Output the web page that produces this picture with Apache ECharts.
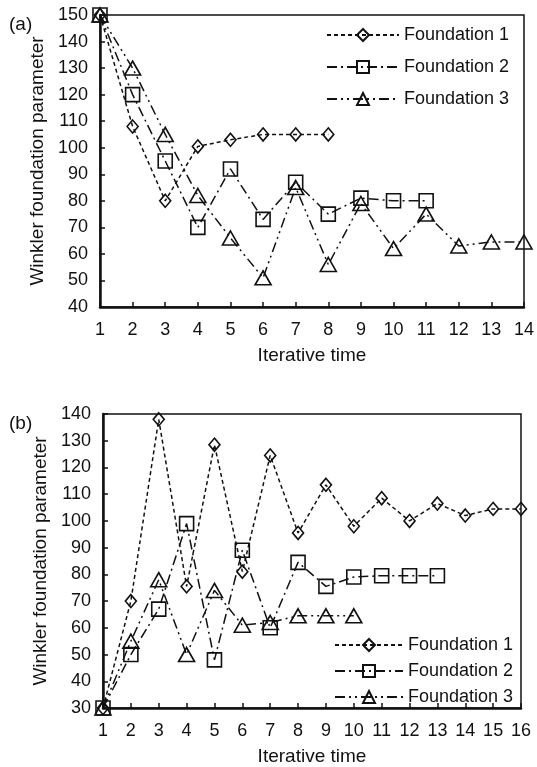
<!DOCTYPE html>
<html>
<head>
<meta charset="utf-8">
<script src="https://cdn.jsdelivr.net/npm/echarts@6/dist/echarts.min.js"></script>
<style>
  html, body { margin: 0; padding: 0; background: #fff; }
  #main { width: 537px; height: 767px; }
</style>
</head>
<body>
<div id="main"></div>
<script>
// x categories
var catsA = ['1', '2', '3', '4', '5', '6', '7', '8', '9', '10', '11', '12', '13', '14'];
var catsB = ['1', '2', '3', '4', '5', '6', '7', '8', '9', '10', '11', '12', '13', '14', '15', '16'];

// (a) Winkler foundation parameter
var a1 = [150, 108, 80, 100.5, 103, 105, 105, 105];
var a2 = [150, 120, 95, 70, 92, 73, 87, 75, 81, 80, 80];
var a3 = [150, 130, 105, 82, 66, 51, 85, 56, 79, 62, 75, 63, 64.5, 64.5];

// (b) Winkler foundation parameter
var b1 = [30, 70, 138, 75.5, 128.5, 81, 124.5, 95.5, 113.5, 98, 108.5, 100, 106.5, 102, 104.5, 104.5];
var b2 = [30, 50, 67, 99, 48, 89, 60, 84.5, 75.5, 79, 79.5, 79.5, 79.5];
var b3 = [30, 55, 78, 50, 74, 61, 62, 64.5, 64.5, 64.5];

var names = ['Foundation 1', 'Foundation 2', 'Foundation 3'];

var font = 'Liberation Sans, Arial, sans-serif';
var ink = '#111';

var styles = [
    { symbol: 'diamond', symbolSize: [11, 13], dash: [4, 3] },
    { symbol: 'rect', symbolSize: 14, dash: [10, 4, 2, 4] },
    { symbol: 'triangle', symbolSize: [16, 14], dash: [10, 4, 2, 4, 2, 4] }
];

function makeSeries(idx, data, axisIdx) {
    var s = styles[idx];
    return {
        name: names[idx],
        type: 'line',
        xAxisIndex: axisIdx,
        yAxisIndex: axisIdx,
        data: data,
        symbol: s.symbol,
        symbolSize: s.symbolSize,
        showAllSymbol: true,
        lineStyle: { color: ink, width: 1.5, type: s.dash },
        itemStyle: { color: 'rgba(0,0,0,0)', borderColor: ink, borderWidth: 1.6 },
        emphasis: { disabled: true }
    };
}

function xAxis(cats, gridIdx) {
    return {
        type: 'category',
        gridIndex: gridIdx,
        data: cats,
        boundaryGap: false,
        name: 'Iterative time',
        nameLocation: 'middle',
        nameGap: 39,
        nameTextStyle: { fontFamily: font, fontSize: 19, color: ink },
        axisLine: { lineStyle: { color: ink, width: 2.5 } },
        axisTick: { inside: true, length: 5, lineStyle: { color: ink, width: 1.5 }, alignWithLabel: true },
        axisLabel: { fontFamily: font, fontSize: 18, color: ink, margin: 14, interval: 0 },
        splitLine: { show: false }
    };
}

function yAxis(min, max, gridIdx) {
    return {
        type: 'value',
        gridIndex: gridIdx,
        min: min,
        max: max,
        interval: 10,
        name: 'Winkler foundation parameter',
        nameLocation: 'middle',
        nameGap: 47,
        nameTextStyle: { fontFamily: font, fontSize: 19, color: ink },
        axisLine: { show: true, lineStyle: { color: ink, width: 2.5 } },
        axisTick: { show: true, inside: true, length: 5, lineStyle: { color: ink, width: 1.5 } },
        axisLabel: { fontFamily: font, fontSize: 18, color: ink, margin: 12 },
        splitLine: { show: false }
    };
}

function legend(top, left, gap, width) {
    return {
        orient: 'vertical',
        top: top,
        left: left,
        itemWidth: width,
        itemHeight: 15,
        itemGap: gap,
        data: names,
        selectedMode: false,
        textStyle: { fontFamily: font, fontSize: 18, color: ink, padding: [0, 0, 0, 0] }
    };
}

var chart = echarts.init(document.getElementById('main'));
var option = {
    animation: false,
    backgroundColor: '#fff',
    title: [
        { text: '(a)', left: 4, top: 10, textStyle: { fontFamily: font, fontSize: 19, fontWeight: 'normal', color: ink } },
        { text: '(b)', left: 4, top: 409, textStyle: { fontFamily: font, fontSize: 19, fontWeight: 'normal', color: ink } }
    ],
    grid: [
        { left: 100, right: 13, top: 15, height: 292, show: true, borderColor: ink, borderWidth: 1.5, backgroundColor: 'transparent' },
        { left: 103, right: 16, top: 414, height: 295, show: true, borderColor: ink, borderWidth: 1.5, backgroundColor: 'transparent' }
    ],
    legend: [
        legend(21, 321, 14, 72),
        legend(631, 329, 8, 68)
    ],
    xAxis: [xAxis(catsA, 0), xAxis(catsB, 1)],
    yAxis: [yAxis(40, 150, 0), yAxis(30, 140, 1)],
    series: [
        makeSeries(0, a1, 0),
        makeSeries(1, a2, 0),
        makeSeries(2, a3, 0),
        makeSeries(0, b1, 1),
        makeSeries(1, b2, 1),
        makeSeries(2, b3, 1)
    ]
};
chart.setOption(option);
</script>
</body>
</html>
